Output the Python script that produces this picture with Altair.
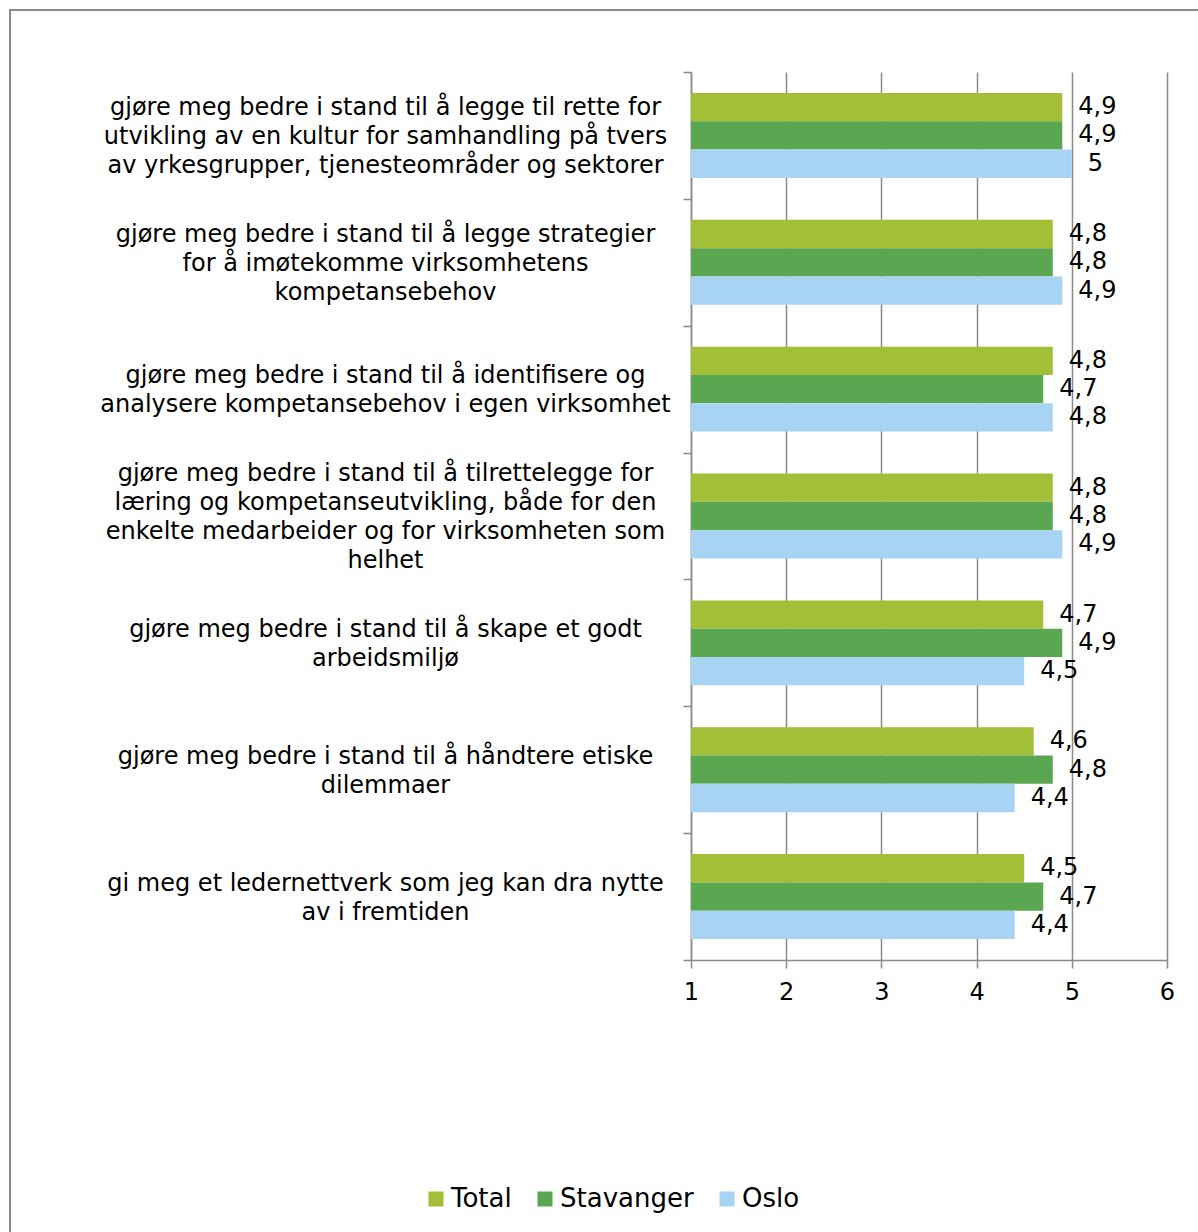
import altair as alt
import pandas as pd

categories = [
    "gjøre meg bedre i stand til å legge til rette for|utvikling av en kultur for samhandling på tvers|av yrkesgrupper, tjenesteområder og sektorer",
    "gjøre meg bedre i stand til å legge strategier|for å imøtekomme virksomhetens|kompetansebehov",
    "gjøre meg bedre i stand til å identifisere og|analysere kompetansebehov i egen virksomhet",
    "gjøre meg bedre i stand til å tilrettelegge for|læring og kompetanseutvikling, både for den|enkelte medarbeider og for virksomheten som|helhet",
    "gjøre meg bedre i stand til å skape et godt|arbeidsmiljø",
    "gjøre meg bedre i stand til å håndtere etiske|dilemmaer",
    "gi meg et ledernettverk som jeg kan dra nytte|av i fremtiden",
]
series = ["Total", "Stavanger", "Oslo"]
total = [4.9, 4.8, 4.8, 4.8, 4.7, 4.6, 4.5]
stavanger = [4.9, 4.8, 4.7, 4.8, 4.9, 4.8, 4.7]
oslo = [5.0, 4.9, 4.8, 4.9, 4.5, 4.4, 4.4]
colors = ["#A2BF37", "#5BA650", "#A8D4F4"]
x_ticks = [1, 2, 3, 4, 5, 6]

rows = []
for i, c in enumerate(categories):
    for s, vals in zip(series, [total, stavanger, oslo]):
        v = vals[i]
        rows.append({"category": c, "series": s, "value": v,
                     "label": f"{v:g}".replace(".", ",")})
df = pd.DataFrame(rows)

FONT = "DejaVu Sans"
GRAY = "#8a8a8a"
LH = 29

nlines = "length(split(datum.value, '|'))"
label_offset = {
    "condition": [
        {"test": f"{nlines} == 4", "value": -1.5 * LH + 1},
        {"test": f"{nlines} == 3", "value": -1.0 * LH + 1},
        {"test": f"{nlines} == 2", "value": -0.5 * LH + 1},
    ],
    "value": 1,
}

y_enc = alt.Y(
    "category:N", sort=categories, title=None,
    scale=alt.Scale(paddingInner=0, paddingOuter=0),
    axis=alt.Axis(
        labelExpr="split(datum.label, '|')", labelAlign="center", labelBaseline="middle",
        labelPadding=298, labelFontSize=24, labelFont=FONT, labelColor="black",
        labelLimit=700, labelLineHeight=LH, labelOffset=label_offset,
        tickSize=8, tickColor=GRAY, tickWidth=1.5,
        domainColor=GRAY, domainWidth=1.5, tickBand="extent", grid=False,
    ),
)
yoff_enc = alt.YOffset("series:N", sort=series,
                       scale=alt.Scale(paddingInner=0, paddingOuter=0.74))

base = alt.Chart(df).encode(y=y_enc, yOffset=yoff_enc)

bars = base.mark_bar().encode(
    x=alt.X("value:Q", title=None,
            scale=alt.Scale(domain=[1, 6], zero=False, nice=False),
            axis=alt.Axis(values=x_ticks, format="d", grid=True, gridColor=GRAY,
                          gridWidth=1.5, tickSize=8, tickColor=GRAY, tickWidth=1.5,
                          domainColor=GRAY, domainWidth=1.5, labelFontSize=24,
                          labelPadding=12, labelColor="black", labelFont=FONT,
                          labelFlush=False)),
    x2=alt.datum(1),
    color=alt.Color("series:N", sort=series,
                    scale=alt.Scale(domain=series, range=colors),
                    legend=alt.Legend(title=None, orient="none", legendX=-268, legendY=1114,
                                      direction="horizontal", columns=3,
                                      symbolType="square", symbolSize=225,
                                      symbolStrokeWidth=0, labelFontSize=26,
                                      labelFont=FONT, labelColor="black",
                                      columnPadding=20, labelOffset=2)),
)

text = base.mark_text(align="left", baseline="middle", dx=16, fontSize=24,
                      font=FONT, color="black").encode(
    x=alt.X("value:Q"), text=alt.Text("label:N"))

frame = alt.Chart(alt.Data(values=[{}])).mark_rect(
    fill="transparent", stroke=GRAY, strokeWidth=2).encode(
    x=alt.value(-681), x2=alt.value(540), y=alt.value(-62), y2=alt.value(1190))

chart = alt.layer(frame, bars, text).properties(
    width=476, height=888,
    autosize=alt.AutoSizeParams(type="none"),
    padding={"left": 691, "top": 72, "right": 31, "bottom": 272},
    background="white",
).configure_view(stroke="transparent")

chart.save("out.html", embed_options={"renderer": "svg", "actions": False})
